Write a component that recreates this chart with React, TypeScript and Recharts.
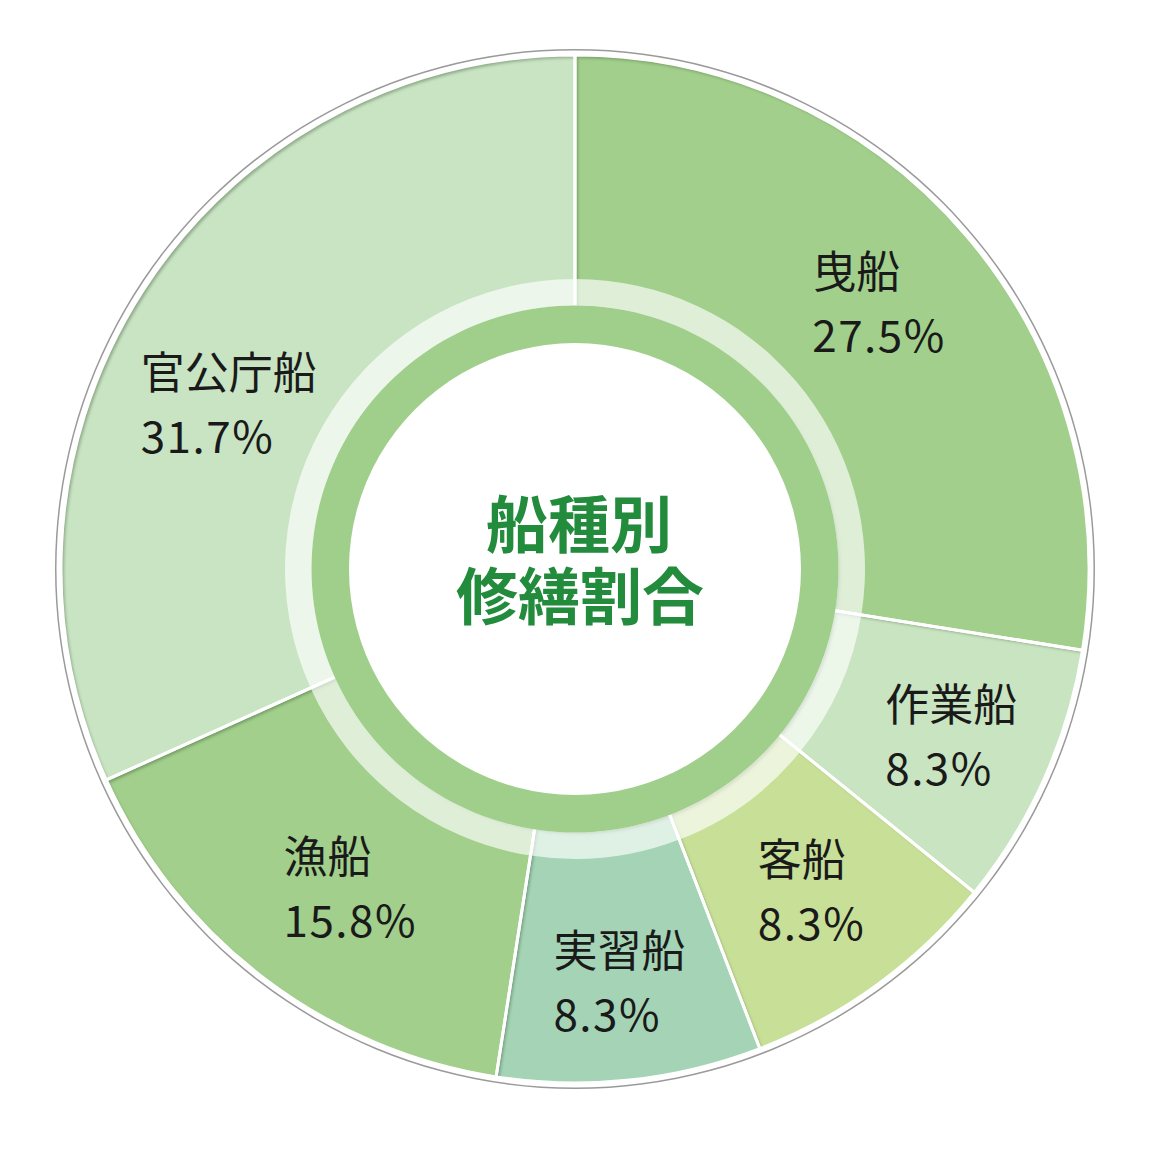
import { Cell, Label, Pie, PieChart } from 'recharts';

const categories = ['曳船', '作業船', '客船', '実習船', '漁船', '官公庁船'];
const shares = [27.5, 8.3, 8.3, 8.3, 15.8, 31.7];
const sliceColors = ['#a2cf8c', '#c9e4c1', '#c8df98', '#a4d4b5', '#a2cf8c', '#c9e4c3'];
const centerTitle = ['船種別', '修繕割合'];

const pieData = categories.map((name, i) => ({ name, value: shares[i] }));
const ringData = [{ name: 'ring', value: 1 }];

// small hand nudges so labels sit where the original puts them
const labelNudge: Record<string, { angle: number; radius: number }> = {
    '曳船': { angle: 0.8, radius: 402 },
    '作業船': { angle: 0, radius: 412 },
    '客船': { angle: 0, radius: 399 },
    '実習船': { angle: 0, radius: 416 },
    '漁船': { angle: 2, radius: 392 },
    '官公庁船': { angle: 7.6, radius: 383 },
};

const labelFont = '"Noto Sans CJK JP", "Noto Sans", sans-serif';

const CX = 567;
const CY = 561;

const renderLabel = (props: any) => {
    const { cx, cy, midAngle, name, value } = props;
    const nudge = labelNudge[name] ?? { angle: 0, radius: 405 };
    const a = ((midAngle + nudge.angle) * Math.PI) / 180;
    const x = cx + nudge.radius * Math.cos(a);
    const y = cy - nudge.radius * Math.sin(a);
    const pct = `${Number(value).toFixed(1)}%`;
    const w = Math.max(name.length * 44, pct.length * 26);
    const left = x - w / 2;
    return (
        <g>
            <text x={left} y={y - 35} dominantBaseline="central" fontSize={44} fill="#1a1a1a" fontFamily={labelFont}>
                {name}
            </text>
            <text x={left} y={y + 29} dominantBaseline="central" fontSize={44} letterSpacing={1.5}
                  fill="#1a1a1a" fontFamily={labelFont}>
                {pct}
            </text>
        </g>
    );
};

const renderCenter = () => (
    <text textAnchor="middle" dominantBaseline="central" fontSize={62}
          fontWeight="bold" fill="#228b3c" fontFamily={labelFont}>
        <tspan x={CX + 4} y={CY - 48}>{centerTitle[0]}</tspan>
        <tspan x={CX + 5} y={CY + 24}>{centerTitle[1]}</tspan>
    </text>
);

export default function App() {
    return (
        <div style={{ width: 1136, height: 1136, background: '#fff' }}>
            <svg width={0} height={0} style={{ position: 'absolute' }}>
                <defs>
                    <filter id="sliceInset" x="-5%" y="-5%" width="110%" height="110%">
                        <feOffset in="SourceAlpha" dx="2.5" dy="2.5" result="off"/>
                        <feGaussianBlur in="off" stdDeviation="1.5" result="blur"/>
                        <feComposite operator="out" in="SourceAlpha" in2="blur" result="edge"/>
                        <feFlood floodColor="#2e5a26" floodOpacity="0.55" result="tint"/>
                        <feComposite operator="in" in="tint" in2="edge" result="shadow"/>
                        <feMerge>
                            <feMergeNode in="SourceGraphic"/>
                            <feMergeNode in="shadow"/>
                        </feMerge>
                    </filter>
                </defs>
            </svg>
            <PieChart width={1136} height={1136} margin={{ top: 0, right: 0, bottom: 0, left: 0 }}>
                {/* thin grey outer rim */}
                <Pie data={ringData} dataKey="value" cx={CX} cy={CY} innerRadius={518.5} outerRadius={520}
                     startAngle={90} endAngle={-270} fill="#9a9a9a" stroke="none" isAnimationActive={false}/>
                {/* slice fills */}
                <Pie data={pieData} dataKey="value" nameKey="name" cx={CX} cy={CY} innerRadius={262} outerRadius={514}
                     startAngle={90} endAngle={-270} stroke="none" isAnimationActive={false}>
                    {pieData.map((d, i) => (
                        <Cell key={d.name} fill={sliceColors[i]} filter="url(#sliceInset)"/>
                    ))}
                </Pie>
                {/* pale inner band */}
                <Pie data={pieData} dataKey="value" nameKey="name" cx={CX} cy={CY} innerRadius={262} outerRadius={290}
                     startAngle={90} endAngle={-270} stroke="none" isAnimationActive={false}>
                    {pieData.map((d) => (
                        <Cell key={d.name} fill="rgba(255,255,255,0.65)"/>
                    ))}
                </Pie>
                {/* white separators + labels */}
                <Pie data={pieData} dataKey="value" nameKey="name" cx={CX} cy={CY} innerRadius={262} outerRadius={514}
                     startAngle={90} endAngle={-270} fill="none" stroke="#ffffff" strokeWidth={3}
                     label={renderLabel} labelLine={false} isAnimationActive={false}/>
                {/* green ring around the centre */}
                <Pie data={ringData} dataKey="value" cx={CX} cy={CY} innerRadius={226} outerRadius={263.5}
                     startAngle={90} endAngle={-270} fill="#a0cf8b" stroke="none" isAnimationActive={false}>
                    <Label content={renderCenter} position="center"/>
                </Pie>
            </PieChart>
        </div>
    );
}
